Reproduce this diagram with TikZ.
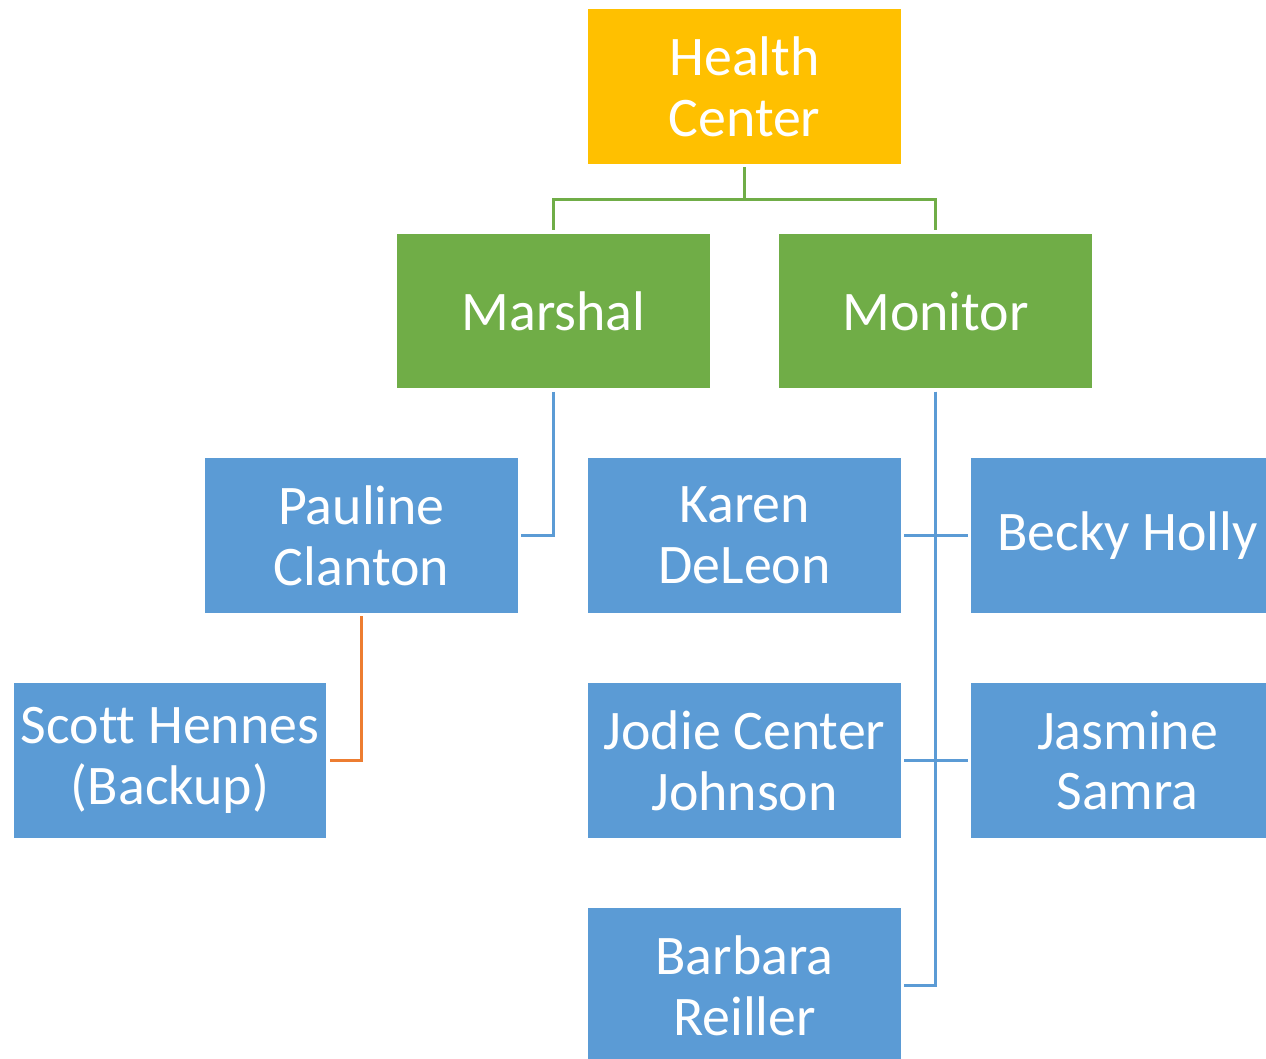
\documentclass[tikz,border=0pt]{standalone}
\usepackage{fontspec}
\setmainfont{Carlito}[Ligatures=NoCommon]
\usepackage{xcolor}
\usepackage{tikz}
\definecolor{hcgold}{HTML}{FFC000}
\definecolor{hcgreen}{HTML}{70AD47}
\definecolor{hcblue}{HTML}{5B9BD5}
\definecolor{hcorange}{HTML}{ED7D31}

\begin{document}
\begin{tikzpicture}[x=0.02cm, y=-0.02cm]
\useasboundingbox (0,0) rectangle (1266,1058);
\clip (0,0) rectangle (1266,1058);

\begin{scope}[every node/.style={rectangle, minimum width=6.26cm, minimum height=3.1cm,
              inner sep=2pt, align=center, text=white, font=\fontsize{31.8}{34.6}\selectfont}]
  \node[fill=hcgold] (HC) at (744.5,86.5) {Health\\Center};
    \node[fill=hcgreen] (MAR) at (553.5,311) {Marshal};
    \node[fill=hcgreen] (MON) at (935.5,311) {Monitor};
    \node[fill=hcblue] (PAU) at (361.5,535.5) {Pauline\\Clanton};
    \node[fill=hcblue] (KAR) at (744.5,535.5) {Karen\\DeLeon};
    \node[fill=hcblue] (BEC) at (1127.5,535.5) {Becky Holly};
    \node[fill=hcblue] (SCO) at (170,760.5) {Scott Hennes\\(Backup)};
    \node[fill=hcblue] (JOD) at (744.5,760.5) {Jodie Center\\Johnson};
    \node[fill=hcblue] (JAS) at (1127.5,760.5) {Jasmine\\Samra};
    \node[fill=hcblue] (BAR) at (744.5,985.5) {Barbara\\Reiller};
\end{scope}

\begin{scope}[line width=1.5pt, shorten <=0.06cm, shorten >=0.06cm]
    \draw[hcgreen] (HC.south) -- ++(0,35) -| (MAR.north);
    \draw[hcgreen] (HC.south) -- ++(0,35) -| (MON.north);
    \draw[hcblue] (MAR.south) |- (PAU.east);
    \draw[hcorange] (PAU.south) |- (SCO.east);
    %\draw[hcblue] (MON.south) -- (BAR.east);
    \draw[hcblue] (MON.south) |- (KAR.east);
    \draw[hcblue] (MON.south) |- (BEC.west);
    \draw[hcblue] (MON.south) |- (JOD.east);
    \draw[hcblue] (MON.south) |- (JAS.west);
    \draw[hcblue] (MON.south) |- (BAR.east);
\end{scope}

\end{tikzpicture}
\end{document}
